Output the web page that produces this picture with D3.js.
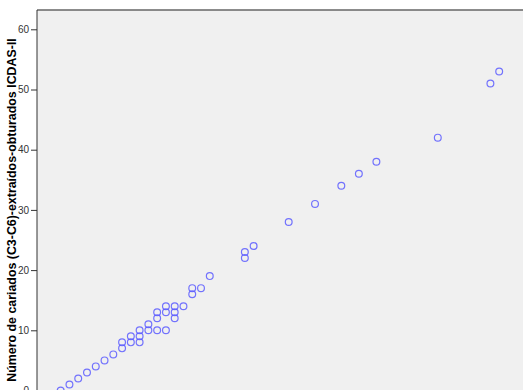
<!DOCTYPE html>
<html>
<head>
<meta charset="utf-8">
<script src="https://cdn.jsdelivr.net/npm/d3@7"></script>
<style>
  html, body { margin: 0; padding: 0; background: #ffffff; overflow: hidden; }
  svg { display: block; }
</style>
</head>
<body>
<svg id="chart" width="523" height="390"></svg>
<script>
// Paired observations: ICDAS-based count (x) vs. carious-extracted-filled count (y)
const xValues = [0, 1, 2, 3, 4, 5, 6, 7, 7, 8, 8, 9, 9, 9, 10, 10, 11, 11, 11, 12, 12, 12, 13, 13, 13, 14, 15, 15, 16, 17, 21, 21, 22, 26, 29, 32, 34, 36, 43, 49, 50];
const yValues = [0, 1, 2, 3, 4, 5, 6, 7, 8, 8, 9, 8, 9, 10, 10, 11, 10, 12, 13, 10, 13, 14, 12, 13, 14, 14, 16, 17, 17, 19, 22, 23, 24, 28, 31, 34, 36, 38, 42, 51, 53];
const yTicks = [0, 10, 20, 30, 40, 50, 60];
const yTitle = "Número de cariados (C3-C6)-extraídos-obturados ICDAS-II";

const points = xValues.map((x, i) => ({ x, y: yValues[i] }));

const svg = d3.select("#chart");
const W = 523, H = 390;
const plotLeft = 37, plotTop = 10;

const x = d3.scaleLinear().domain([-2.7, 60]).range([plotLeft, plotLeft + 62.7 * 8.77]);
const y = d3.scaleLinear().domain([0, 60]).range([390.5, 29.3]);

// plot background
svg.append("rect")
  .attr("x", plotLeft).attr("y", plotTop)
  .attr("width", W - plotLeft + 10).attr("height", H - plotTop + 10)
  .attr("fill", "#f0f0f0");

// top frame line
svg.append("line")
  .attr("x1", plotLeft).attr("x2", W + 5)
  .attr("y1", plotTop).attr("y2", plotTop)
  .attr("stroke", "#666").attr("stroke-width", 1.5);

// y axis
const yAxis = d3.axisLeft(y).tickValues(yTicks).tickSize(6).tickPadding(2).tickFormat(d3.format("d"));
const gy = svg.append("g").attr("transform", `translate(${plotLeft},0)`).call(yAxis);
gy.select(".domain").remove();
gy.append("line").attr("x1", 0).attr("x2", 0).attr("y1", plotTop).attr("y2", H + 5)
  .attr("stroke", "#333").attr("stroke-width", 1);
gy.selectAll(".tick line").attr("stroke", "#333");
gy.selectAll(".tick text")
  .attr("fill", "#333")
  .style("font-family", "Liberation Sans, Arial, sans-serif")
  .style("font-size", "10px");

// y axis title
svg.append("text")
  .attr("transform", `translate(16,210) rotate(-90)`)
  .attr("text-anchor", "middle")
  .style("font-family", "Liberation Sans, Arial, sans-serif")
  .style("font-size", "12.4px")
  .style("font-weight", "bold")
  .attr("fill", "#000")
  .text(yTitle);

// scatter markers
svg.append("g")
  .selectAll("circle")
  .data(points)
  .join("circle")
  .attr("cx", d => x(d.x))
  .attr("cy", d => y(d.y))
  .attr("r", 3.4)
  .attr("fill", "none")
  .attr("stroke", "#5c5cff")
  .attr("stroke-opacity", 0.85)
  .attr("stroke-width", 1.2);
</script>
</body>
</html>
